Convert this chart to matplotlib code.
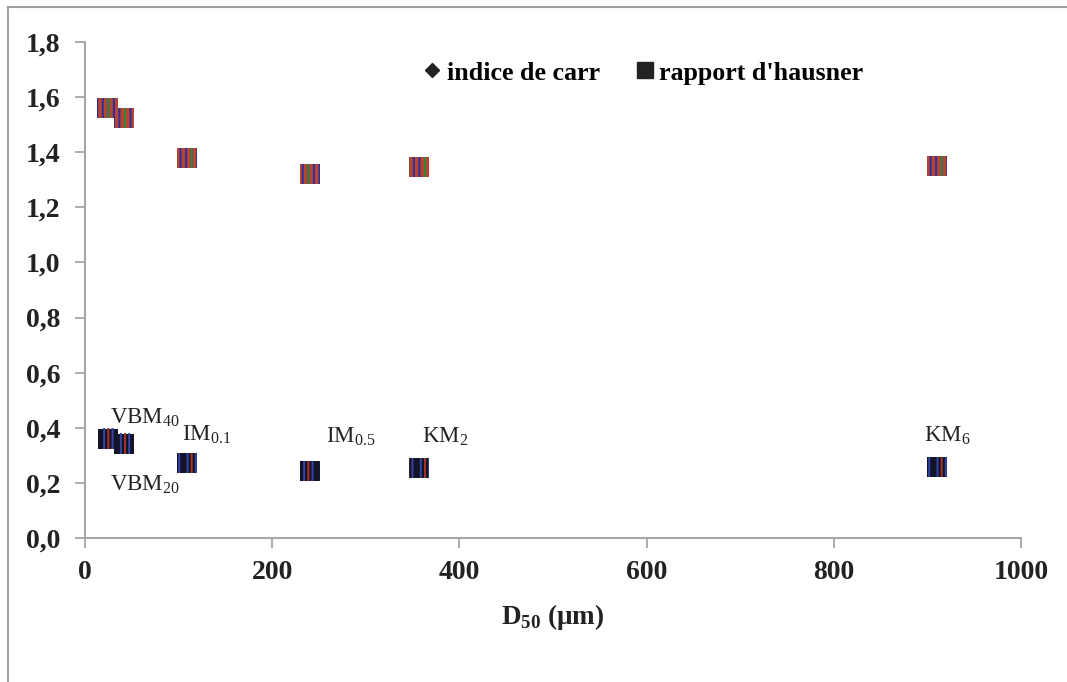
import matplotlib
matplotlib.use("Agg")
import matplotlib.pyplot as plt
from matplotlib.lines import Line2D

# D50 (um) of each powder
d50 = [24, 42, 109, 240, 357, 910]
names = ["VBM$_{\\mathrm{40}}$", "VBM$_{\\mathrm{20}}$", "IM$_{\\mathrm{0.1}}$",
         "IM$_{\\mathrm{0.5}}$", "KM$_{\\mathrm{2}}$", "KM$_{\\mathrm{6}}$"]
hausner = [1.560, 1.524, 1.379, 1.321, 1.346, 1.349]
carr = [0.361, 0.343, 0.272, 0.243, 0.254, 0.258]

# label anchor (x, y) in data units, left / baseline
label_pos = [(27, 0.417), (27, 0.174), (104, 0.356), (257, 0.348), (360, 0.348), (896, 0.352)]

yticks = [0.0, 0.2, 0.4, 0.6, 0.8, 1.0, 1.2, 1.4, 1.6, 1.8]
xticks = [0, 200, 400, 600, 800, 1000]

plt.rcParams['font.family'] = ['Liberation Serif', 'DejaVu Serif']
plt.rcParams['mathtext.fontset'] = 'custom'
plt.rcParams['mathtext.rm'] = 'Liberation Serif'
plt.rcParams['mathtext.bf'] = 'Liberation Serif:bold'
plt.rcParams['hatch.linewidth'] = 1.4

fig = plt.figure(figsize=(10.67, 6.82), dpi=100)
ax = fig.add_axes([0.0797, 0.2111, 0.8773, 0.7273])

gray = '#a6a6a6'

# hausner ratio: striped squares
ax.scatter(d50, hausner, marker='s', s=215, c='#b8452e', linewidths=0, zorder=3)
ax.scatter(d50, hausner, marker='s', s=215, facecolors='none', edgecolors='#2a2fa8',
           hatch='|||', linewidths=0, zorder=4)
ax.scatter(d50, hausner, marker='s', s=215, facecolors='none', edgecolors='#2f8a3a',
           hatch='|', linewidths=0, zorder=5)

# carr index: dark striped squares
ax.scatter(d50, carr, marker='s', s=215, c='#141428', linewidths=0, zorder=3)
ax.scatter(d50, carr, marker='s', s=215, facecolors='none', edgecolors='#3344aa',
           hatch='||', linewidths=0, zorder=4)
ax.scatter(d50, carr, marker='s', s=215, facecolors='none', edgecolors='#aa3322',
           hatch='|', linewidths=0, zorder=5)

for name, (lx, ly) in zip(names, label_pos):
    ax.text(lx, ly, name, fontsize=16.5, color='#222222', ha='left', va='baseline')

ax.set_xlim(0, 1000)
ax.set_ylim(0, 1.8)
ax.set_xticks(xticks)
ax.set_xticklabels([str(v) for v in xticks])
ax.set_yticks(yticks)
ax.set_yticklabels([f"{v:.1f}".replace('.', ',') for v in yticks])
for lab in ax.get_xticklabels() + ax.get_yticklabels():
    lab.set_fontweight('bold')
    lab.set_fontsize(20)
    lab.set_color('#222222')
ax.tick_params(axis='y', direction='out', length=7, width=1.3, color=gray, pad=11)
ax.tick_params(axis='x', direction='out', length=7, width=1.3, color=gray, pad=9)

for side in ['top', 'right']:
    ax.spines[side].set_visible(False)
for side in ['left', 'bottom']:
    ax.spines[side].set_color(gray)
    ax.spines[side].set_linewidth(1.5)

ax.set_xlabel("D$_{\\mathbf{50}}$ (\u03bcm)", fontsize=19.5, fontweight='bold',
              color='#222222', labelpad=12)

handles = [Line2D([], [], marker='D', color='#222222', markersize=7.5, linestyle='none'),
           Line2D([], [], marker='s', color='#222222', markersize=11, linestyle='none')]
fig.legend(handles, ["indice de carr", "rapport d'hausner"], loc='center',
           bbox_to_anchor=(0.603, 0.893), ncol=2, frameon=False, handlelength=0.7,
           handletextpad=0.2, columnspacing=1.4, prop={'weight': 'bold', 'size': 18.7})

# outer frame (top and left visible)
fig.add_artist(Line2D([8 / 1067, 8 / 1067], [0, 1 - 7 / 682], transform=fig.transFigure,
                      color='#a0a0a0', linewidth=1.5))
fig.add_artist(Line2D([8 / 1067, 1], [1 - 7 / 682, 1 - 7 / 682], transform=fig.transFigure,
                      color='#a0a0a0', linewidth=1.5))

fig.savefig("out.png", dpi=100)
